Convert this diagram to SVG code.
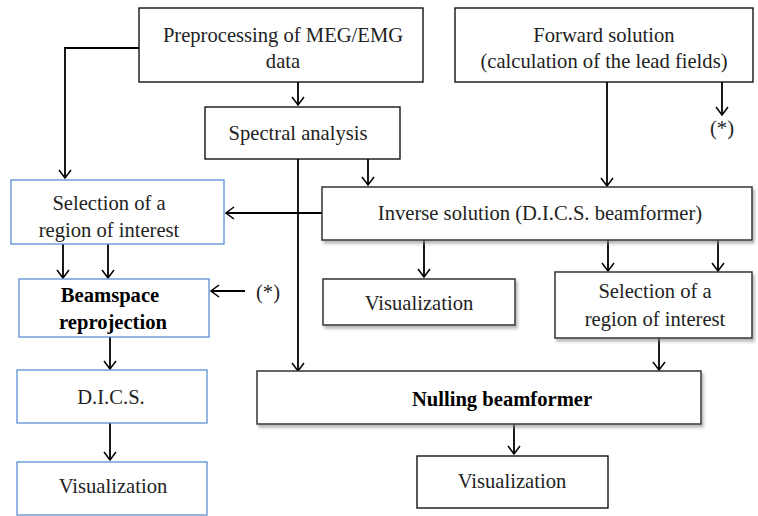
<svg xmlns="http://www.w3.org/2000/svg" width="758" height="516" viewBox="0 0 758 516">
<style>
.b{fill:#fff;stroke:#000;stroke-width:1.3}
.bl{fill:#fff;stroke:#5b8fd4;stroke-width:1.3}
.sh{fill:#fff;stroke:#333;stroke-width:1.5;filter:url(#ds)}
text{font-family:'Liberation Serif','DejaVu Serif',serif;font-size:20.6px;fill:#222;text-anchor:middle}
.bd{font-weight:bold;fill:#000}
.c{fill:none;stroke:#000;stroke-width:1.8}
</style>
<defs>
<marker id="a" markerWidth="10" markerHeight="14" refX="9" refY="7" orient="auto" markerUnits="userSpaceOnUse" viewBox="0 0 10 14">
<path d="M1,1 L9,7 L1,13" fill="none" stroke="#000" stroke-width="1.5"/>
</marker>
<filter id="ds" x="-5%" y="-10%" width="110%" height="130%">
<feDropShadow dx="2" dy="3" stdDeviation="1.5" flood-color="#888" flood-opacity="0.6"/>
</filter>
</defs>
<g id="connectors">
<path class="c" d="M298,82 V105" marker-end="url(#a)"/>
<path class="c" d="M139,48 H65 V178" marker-end="url(#a)"/>
<path class="c" d="M298,159 V371" marker-end="url(#a)"/>
<path class="c" d="M368,159 V185" marker-end="url(#a)"/>
<path class="c" d="M607,82 V186" marker-end="url(#a)"/>
<path class="c" d="M722,82 V115" marker-end="url(#a)"/>
<path class="c" d="M322,213 H226" marker-end="url(#a)"/>
<path class="c" d="M63,244 V278" marker-end="url(#a)"/>
<path class="c" d="M108,244 V278" marker-end="url(#a)"/>
<path class="c" d="M245,291 H211" marker-end="url(#a)"/>
<path class="c" d="M110,337 V369" marker-end="url(#a)"/>
<path class="c" d="M110,423 V460" marker-end="url(#a)"/>
<path class="c" d="M424,240 V277" marker-end="url(#a)"/>
<path class="c" d="M608,240 V271" marker-end="url(#a)"/>
<path class="c" d="M718,240 V271" marker-end="url(#a)"/>
<path class="c" d="M659,338 V370" marker-end="url(#a)"/>
<path class="c" d="M514,424 V454" marker-end="url(#a)"/>
</g>
<g id="preprocessing"><rect class="b" x="139" y="8" width="284" height="74"/><text x="283" y="42">Preprocessing of MEG/EMG</text><text x="283" y="68">data</text></g>
<g id="forward"><rect class="b" x="455" y="8" width="298" height="74"/><text x="604" y="42">Forward solution</text><text x="604" y="68">(calculation of the lead fields)</text></g>
<g id="star1"><text x="722" y="135">(*)</text></g>
<g id="spectral"><rect class="b" x="205" y="107" width="195" height="52"/><text x="298" y="140">Spectral analysis</text></g>
<g id="inverse"><rect class="sh" x="322" y="187" width="430" height="53"/><text x="540" y="220">Inverse solution (D.I.C.S. beamformer)</text></g>
<g id="selection-left"><rect class="bl" x="11" y="180" width="213" height="64"/><text x="109" y="210">Selection of a</text><text x="109" y="237">region of interest</text></g>
<g id="beamspace"><rect class="bl" x="19" y="279" width="190" height="58"/><text class="bd" x="110" y="302">Beamspace</text><text class="bd" x="113" y="329">reprojection</text></g>
<g id="star2"><text x="268" y="299">(*)</text></g>
<g id="dics"><rect class="bl" x="17" y="370" width="190" height="53"/><text x="111" y="404">D.I.C.S.</text></g>
<g id="visualization-left"><rect class="bl" x="17" y="462" width="190" height="53"/><text x="113" y="493">Visualization</text></g>
<g id="visualization-mid"><rect class="sh" x="323" y="279" width="192" height="46"/><text x="419" y="310">Visualization</text></g>
<g id="selection-right"><rect class="sh" x="555" y="272" width="197" height="66"/><text x="655" y="298">Selection of a</text><text x="655" y="326">region of interest</text></g>
<g id="nulling"><rect class="sh" x="257" y="371" width="444" height="53"/><text class="bd" x="502" y="406">Nulling beamformer</text></g>
<g id="visualization-bottom"><rect class="b" x="417" y="456" width="191" height="52"/><text x="512" y="488">Visualization</text></g>
</svg>
